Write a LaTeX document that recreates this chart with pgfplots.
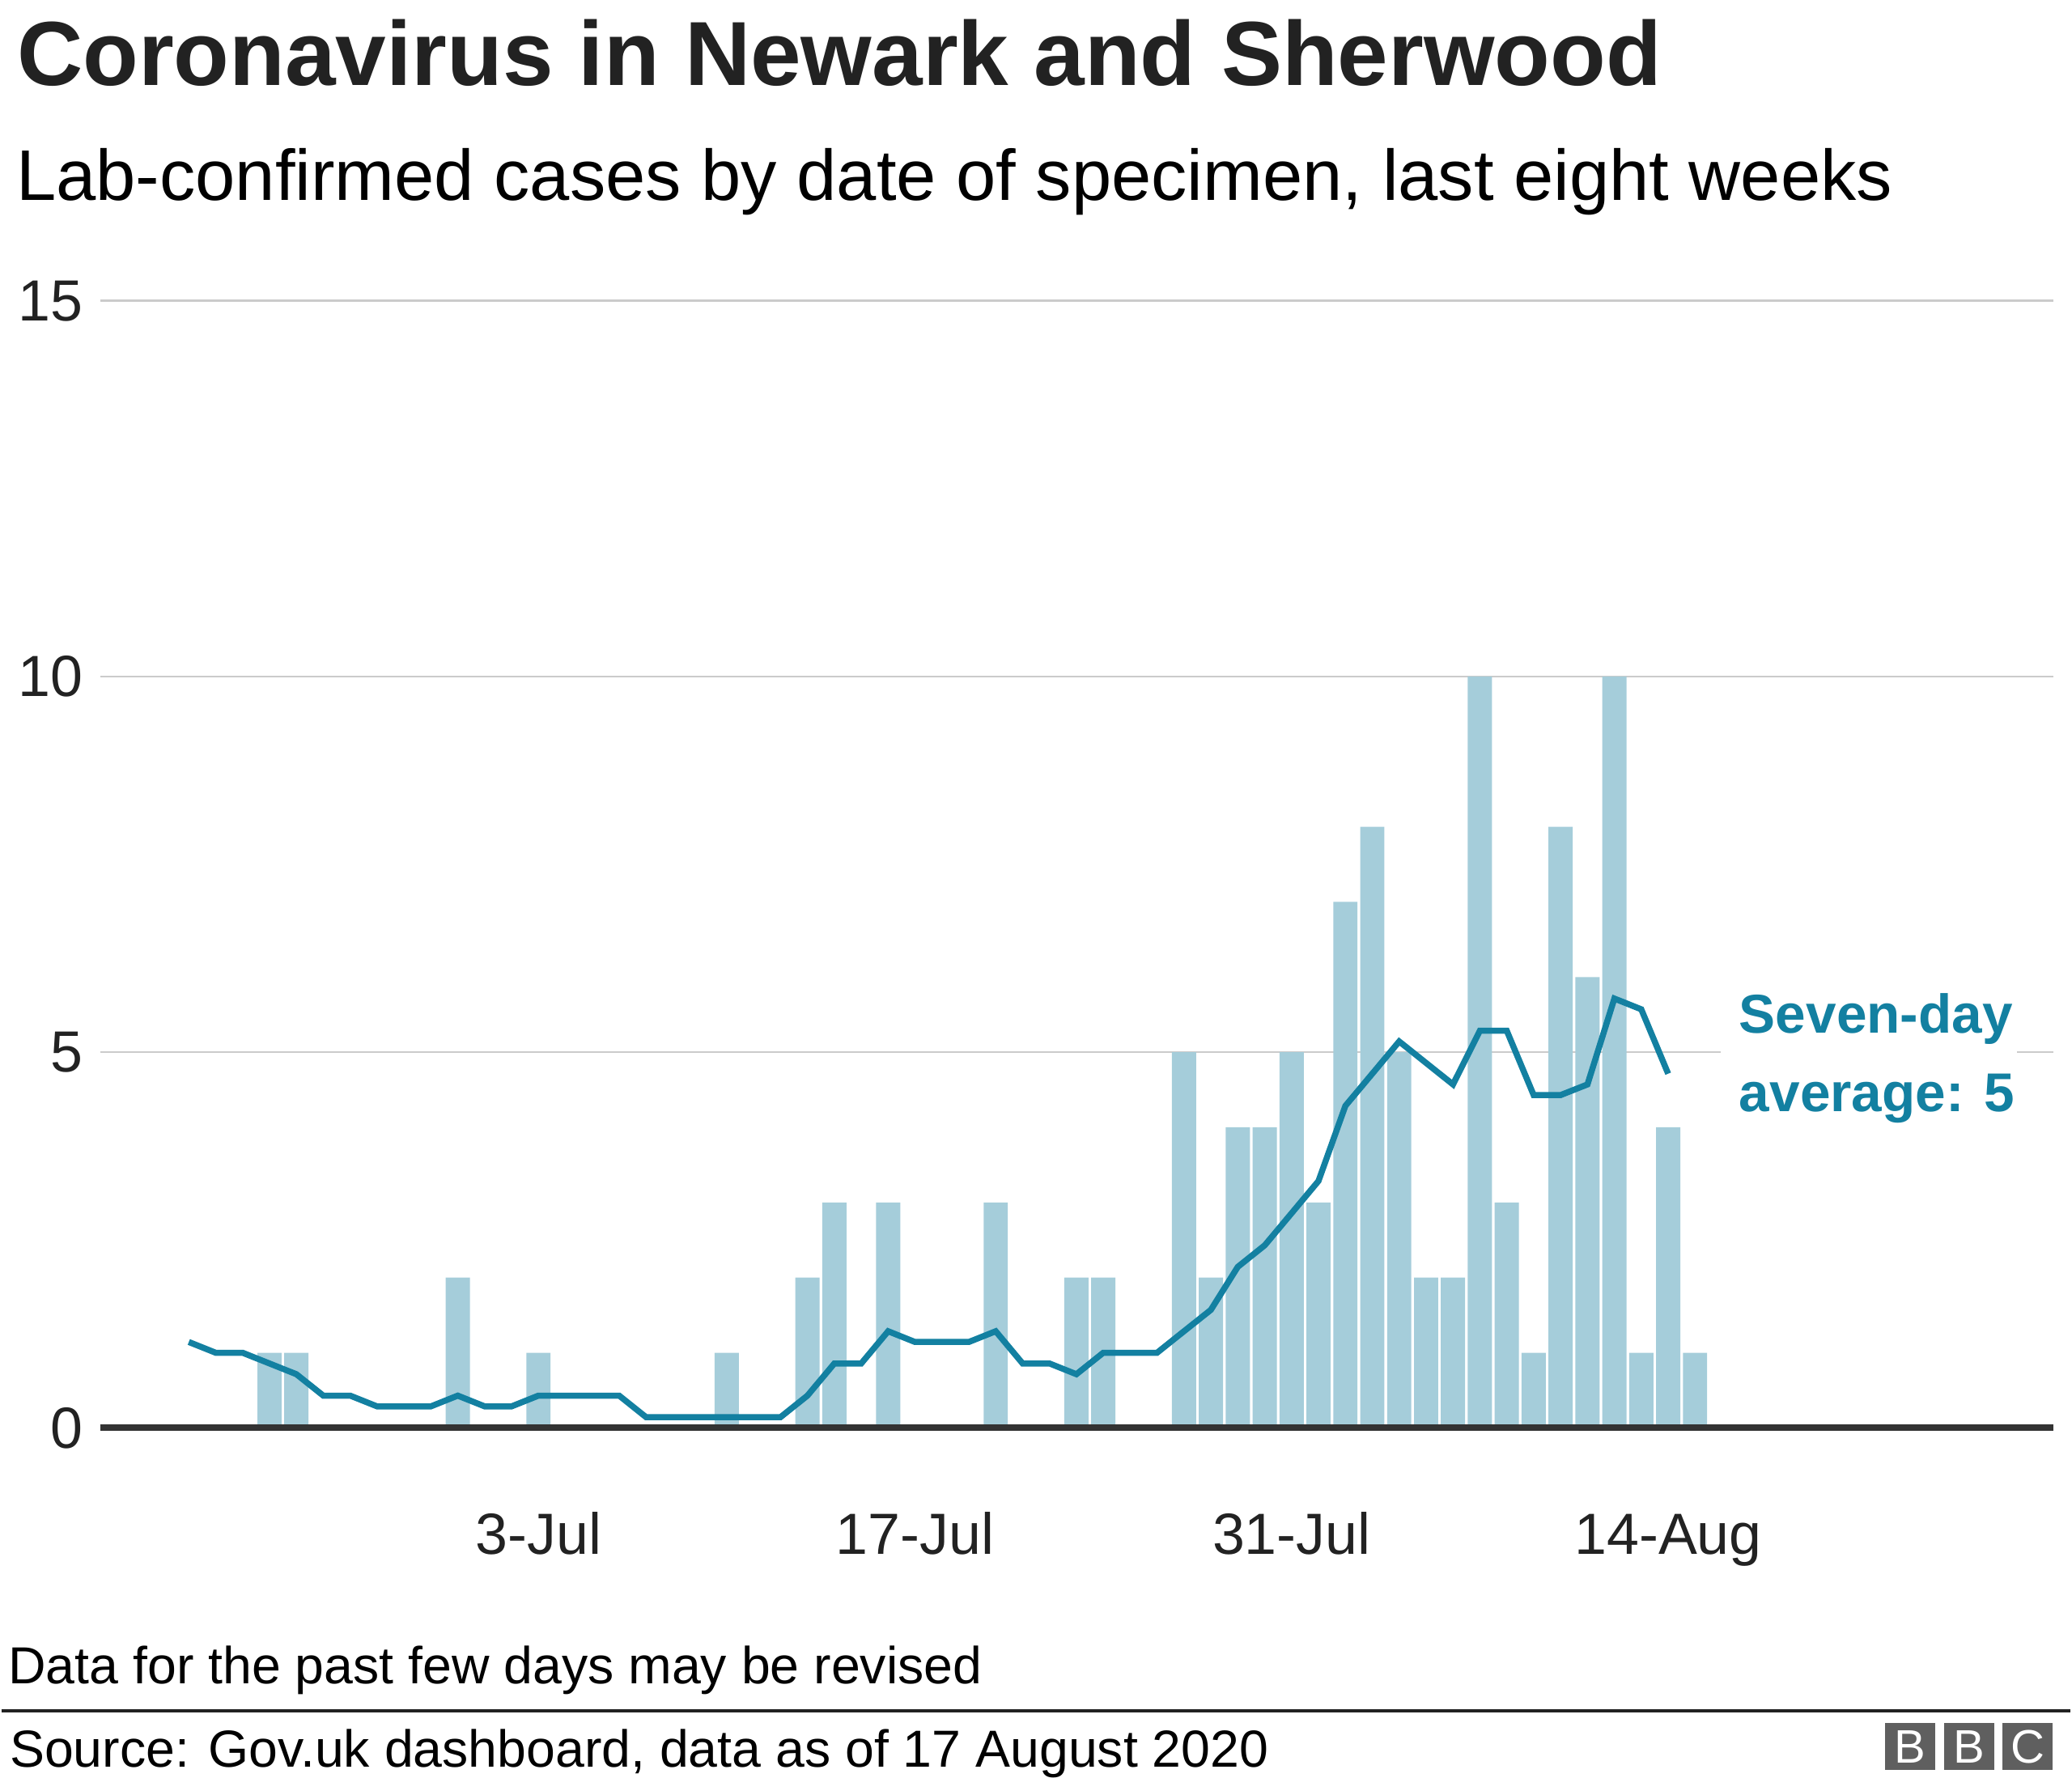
\documentclass[border=0pt]{standalone}
\usepackage{pgfplots}
\pgfplotsset{compat=1.18}
\usepackage{fontspec}
\setmainfont{Liberation Sans}
\definecolor{barc}{HTML}{A5CDDA}
\definecolor{linec}{HTML}{1380A1}
\definecolor{gridc}{HTML}{CBCBCB}
\definecolor{zeroc}{HTML}{333333}
\definecolor{textc}{HTML}{222222}
\definecolor{logoc}{HTML}{5F5F5F}
\begin{document}
\begin{tikzpicture}
\begin{scope}[x=0.5bp,y=-0.5bp]
\path[use as bounding box] (0,0) rectangle (1568,1347);
\node[anchor=base west, inner sep=0pt, text=textc, font=\fontsize{34.5bp}{40bp}\selectfont\bfseries] at (11.5,65) {Coronavirus in Newark and Sherwood};
\node[anchor=base west, inner sep=0pt, text=black, font=\fontsize{27.15bp}{32bp}\selectfont] at (11,152) {Lab-confirmed cases by date of specimen, last eight weeks};
\end{scope}
\begin{axis}[
  at={(37.5bp,-541bp)}, anchor=south west,
  scale only axis, width=740bp, height=427bp,
  xmin=-16.29, xmax=56.33, ymin=0, ymax=15,
  axis line style={draw=none},
  major tick length=0pt, tick style={draw=none},
  xtick={0,14,28,42}, xticklabels={3-Jul,17-Jul,31-Jul,14-Aug},
  ytick={0,5,10,15}, yticklabels={0,5,10,15},
  /pgf/number format/assume math mode=true,
  ymajorgrids, grid style={draw=gridc, line width=0.8bp},
  xticklabel style={font=\fontsize{22bp}{26bp}\selectfont, text=textc, anchor=base, inner sep=0pt, yshift=-47.75bp},
  yticklabel style={font=\fontsize{22bp}{26bp}\selectfont, text=textc, anchor=east, inner sep=0pt, xshift=-6.5bp},
  clip=false,
]
\addplot[ybar, bar width=0.9, bar shift=0pt, fill=barc, draw=none] table {
x y
-10 1
-9 1
-3 2
0 1
7 1
10 2
11 3
13 3
17 3
20 2
21 2
24 5
25 2
26 4
27 4
28 5
29 3
30 7
31 8
32 5
33 2
34 2
35 10
36 3
37 1
38 8
39 6
40 10
41 1
42 4
43 1
};
\addplot[linec, line width=2.3bp, mark=none] table {
x y
-13 1.143
-12 1.0
-11 1.0
-10 0.857
-9 0.714
-8 0.429
-7 0.429
-6 0.286
-5 0.286
-4 0.286
-3 0.429
-2 0.286
-1 0.286
0 0.429
1 0.429
2 0.429
3 0.429
4 0.143
5 0.143
6 0.143
7 0.143
8 0.143
9 0.143
10 0.429
11 0.857
12 0.857
13 1.286
14 1.143
15 1.143
16 1.143
17 1.286
18 0.857
19 0.857
20 0.714
21 1.0
22 1.0
23 1.0
24 1.286
25 1.571
26 2.143
27 2.429
28 2.857
29 3.286
30 4.286
31 4.714
32 5.143
33 4.857
34 4.571
35 5.286
36 5.286
37 4.429
38 4.429
39 4.571
40 5.714
41 5.571
42 4.714
};
\draw[zeroc, line width=2.5bp] (rel axis cs:0,0) -- (rel axis cs:1,0);
\end{axis}
\begin{scope}[x=0.5bp,y=-0.5bp]
\fill[white] (1303,770) rectangle (1527,815);
\node[anchor=base west, inner sep=0pt, text=linec, font=\fontsize{20.7bp}{24bp}\selectfont\bfseries] at (1316.5,783) {Seven-day};
\node[anchor=base west, inner sep=0pt, text=linec, font=\fontsize{20.7bp}{24bp}\selectfont\bfseries] at (1316.5,842.5) {average: 5};
\node[anchor=base west, inner sep=0pt, text=black, font=\fontsize{19.75bp}{23bp}\selectfont] at (5,1276) {Data for the past few days may be revised};
\draw[line width=1bp, color=textc] (0,1296.5) -- (1568,1296.5);
\node[anchor=base west, inner sep=0pt, text=black, font=\fontsize{19.75bp}{23bp}\selectfont] at (6,1339) {Source: Gov.uk dashboard, data as of 17 August 2020};
\foreach \x/\l in {1427.5/B,1472/B,1516.3/C}{
  \fill[logoc] (\x,1305.6) rectangle ++(38,35.8);
  \node[inner sep=0pt, text=white, font=\fontsize{17.8bp}{20bp}\selectfont] at ({\x+19},1323.5) {\l};
}
\end{scope}
\end{tikzpicture}
\end{document}
